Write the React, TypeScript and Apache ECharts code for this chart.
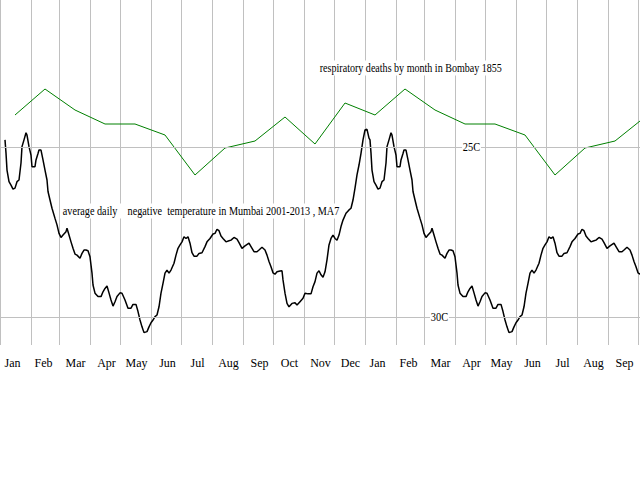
import React, { useEffect, useRef } from "react";
import * as echarts from "echarts";

// months on the axis
const monthNames = ["Jan", "Feb", "Mar", "Apr", "May", "Jun", "Jul", "Aug", "Sep", "Oct", "Nov", "Dec"];
const monthLengths = [31, 28, 31, 30, 31, 30, 31, 31, 30, 31, 30, 31];
const totalDays = 640;

// average daily temperature in Mumbai 2001-2013, MA7 (day of year -> deg C)
const tempDays = [
	0, 2, 4, 5, 6, 7, 9, 11, 13, 15, 17, 19, 21, 22, 24, 26, 27, 29, 31, 32, 35, 36, 38, 39, 41, 43, 45, 47, 48, 50,
	52, 55, 57, 59, 61, 63, 66, 67, 69, 71, 73, 75, 77, 80, 82, 84, 86, 88, 90, 92, 93, 95, 98, 101, 103, 105, 107,
	109, 111, 113, 115, 117, 120, 122, 125, 128, 131, 133, 136, 138, 140, 142, 144, 147, 149, 151, 153, 155, 157, 159,
	161, 163, 165, 167, 169, 171, 174, 176, 178, 180, 182, 184, 186, 188, 190, 192, 194, 197, 199, 202, 205, 207, 210,
	213, 215, 217, 219, 221, 223, 226, 229, 231, 234, 237, 239, 242, 245, 249, 251, 254, 257, 259, 262, 265, 267, 269,
	271, 273, 275, 277, 280, 282, 283, 285, 287, 289, 292, 295, 297, 300, 303, 305, 308, 311, 313, 315, 317, 319, 321,
	323, 325, 327, 329, 331, 333, 335, 337, 339, 341, 343, 346, 349, 351, 353, 355, 357, 359, 361, 363,
];
const tempValues = [
	24.5, 24.48, 24.74, 24.79, 25.18, 25.68, 26.02, 26.12, 26.24, 26.21, 26.02, 25.97, 25.47, 24.99, 24.79, 24.58,
	24.65, 24.99, 25.24, 25.58, 25.58, 25.38, 25.19, 25.09, 25.09, 25.38, 25.68, 25.97, 26.31, 26.56, 26.8, 27.1,
	27.29, 27.54, 27.66, 27.59, 27.49, 27.39, 27.59, 27.79, 27.98, 28.15, 28.18, 28.27, 28.13, 28.03, 28.03, 28.05,
	28.23, 28.71, 29.06, 29.3, 29.4, 29.4, 29.26, 29.16, 29.09, 29.29, 29.5, 29.68, 29.55, 29.4, 29.29, 29.3, 29.5,
	29.74, 29.74, 29.63, 29.63, 29.84, 30.09, 30.29, 30.46, 30.43, 30.29, 30.17, 30.09, 29.99, 29.94, 29.7, 29.3,
	29.01, 28.71, 28.62, 28.71, 28.62, 28.42, 28.18, 27.98, 27.88, 27.79, 27.64, 27.69, 27.64, 27.83, 28.11, 28.21,
	28.21, 28.13, 28.11, 27.93, 27.79, 27.69, 27.56, 27.54, 27.42, 27.46, 27.62, 27.69, 27.79, 27.76, 27.74, 27.66,
	27.71, 27.81, 27.98, 27.91, 27.83, 27.93, 28.08, 28.08, 28.03, 27.95, 28.03, 28.18, 28.37, 28.52, 28.7, 28.74,
	28.67, 28.65, 28.64, 28.91, 29.3, 29.6, 29.7, 29.6, 29.58, 29.65, 29.55, 29.45, 29.3, 29.32, 29.32, 29.11, 28.96,
	28.71, 28.64, 28.76, 28.83, 28.67, 28.32, 27.88, 27.69, 27.59, 27.69, 27.74, 27.59, 27.34, 27.15, 26.95, 26.85,
	26.8, 26.56, 26.21, 25.82, 25.53, 25.19, 24.79,
];

// respiratory deaths by month in Bombay 1855 (own hidden scale)
const deathCounts = [230, 256, 235, 221, 221, 210, 170, 197, 204, 228, 201, 242];

// reference temperatures shown as grid lines
const refTemps = [25, 30];
const refLabels = ["25C", "30C"];
const refLabelDays = [471.5, 439.5];

const serif = "'Liberation Serif', 'Times New Roman', serif";

const App: React.FC = () => {
	const chartRef = useRef<HTMLDivElement>(null);

	useEffect(() => {
		if (!chartRef.current) return;
		const chart = echarts.init(chartRef.current, null, { renderer: "svg" });

		// one category per day, first year plus part of the next
		const days: string[] = [];
		const monthStarts = new Set<number>();
		const monthMiddles = new Set<number>();
		let idx = 0;
		for (let yr = 0; idx < totalDays; yr++) {
			for (let m = 0; m < 12 && idx < totalDays; m++) {
				monthStarts.add(idx);
				monthMiddles.add(idx + (m < 2 ? 12 : 16));
				for (let d = 1; d <= monthLengths[m] && idx < totalDays; d++) {
					days.push(`${monthNames[m]} ${d} y${yr + 1}`);
					idx++;
				}
			}
		}

		// the annual curve drawn twice (year 1 starts once the MA7 has data)
		const tempData: [number, number][] = [];
		tempDays.forEach((d, i) => {
			if (d >= 5) tempData.push([d, tempValues[i]]);
		});
		tempDays.forEach((d, i) => {
			if (d + 365 <= totalDays + 3) tempData.push([d + 365, tempValues[i]]);
		});

		// monthly deaths, one point every 30 days
		const deathData: [number, number][] = [];
		for (let k = 0; 15 + 30 * k < totalDays + 30; k++) {
			deathData.push([15 + 30 * k, deathCounts[k % 12]]);
		}

		chart.setOption({
			animation: false,
			backgroundColor: "#fff",
			grid: { left: 0, right: 0, top: 0, height: 345 },
			xAxis: [
				{
					type: "category",
					data: days,
					boundaryGap: true,
					axisLine: { show: false },
					axisTick: { show: false },
					splitLine: {
						show: true,
						interval: (i: number) => monthStarts.has(i),
						lineStyle: { color: "#c0c0c0", width: 1 },
					},
					axisLabel: {
						interval: (i: number) => monthMiddles.has(i),
						formatter: (v: string) => v.split(" ")[0],
						fontFamily: serif,
						fontSize: 12,
						color: "#000",
						margin: 12,
					},
				},
				{ type: "value", min: 0, max: totalDays, show: false },
			],
			yAxis: [
				{ type: "value", inverse: true, min: 20.676, max: 30.824, show: false },
				{ type: "value", min: 0, max: 345, show: false },
			],
			series: [
				{
					name: "respiratory deaths",
					type: "line",
					xAxisIndex: 1,
					yAxisIndex: 1,
					data: deathData,
					symbol: "none",
					lineStyle: { color: "#008000", width: 1 },
					markLine: {
						silent: true,
						symbol: "none",
						label: { show: false },
						lineStyle: { color: "#c0c0c0", type: "solid", width: 1 },
						data: refTemps.map((t) => ({ yAxis: 345 - (t - 20.676) * 34 })),
					},
				},
				{
					name: "temperature",
					type: "line",
					xAxisIndex: 1,
					yAxisIndex: 0,
					data: tempData,
					symbol: "none",
					lineStyle: { color: "#000", width: 1.5 },
				},
			],
		});

		const refGraphics = refTemps.map((t, i) => {
			const p = chart.convertToPixel({ seriesIndex: 1 }, [refLabelDays[i], t]) as number[];
			return {
				type: "text",
				x: p[0],
				y: p[1],
				scaleX: 0.8,
				z: 10,
				style: {
					text: refLabels[i],
					font: `13px ${serif}`,
					fill: "#000",
					backgroundColor: "#fff",
					padding: [1, 1],
					align: "center",
					verticalAlign: "middle",
				},
			};
		});

		chart.setOption({
			graphic: [
				{
					type: "text",
					x: 319,
					y: 68,
					scaleX: 0.775,
					z: 10,
					style: {
						text: "respiratory deaths by month in Bombay 1855",
						font: `13px ${serif}`,
						fill: "#000",
						backgroundColor: "#fff",
						padding: [1, 1],
						align: "left",
						verticalAlign: "middle",
					},
				},
				{
					type: "text",
					x: 62,
					y: 211,
					scaleX: 0.785,
					z: 10,
					style: {
						text: "average daily    negative  temperature in Mumbai 2001-2013 , MA7",
						font: `13px ${serif}`,
						fill: "#000",
						backgroundColor: "#fff",
						padding: [1, 1],
						align: "left",
						verticalAlign: "middle",
					},
				},
				...refGraphics,
			],
		});

		return () => {
			chart.dispose();
		};
	}, []);

	return <div ref={chartRef} style={{ position: "fixed", left: 0, top: 0, width: "640px", height: "480px" }} />;
};

export default App;
